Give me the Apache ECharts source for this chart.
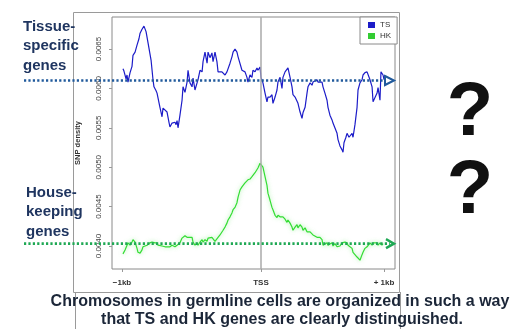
<!DOCTYPE html>
<html><head><meta charset="utf-8">
<script src="https://cdn.jsdelivr.net/npm/echarts@6/dist/echarts.min.js"></script>
<style>html,body{margin:0;padding:0;background:#fff}#c{width:527px;height:329px}</style>
</head><body><div id="c"></div>
<script>
// ---- data (bp relative to TSS, SNP density) ----
const tsX = [-993,-986,-971,-964,-957,-942,-928,-921,-906,-892,-878,-870,-856,-849,-842,-827,-813,-791,-777,-770,-755,-748,-727,-712,-705,-691,-676,-662,-655,-640,-633,-619,-611,-604,-597,-583,-568,-561,-547,-532,-525,-511,-496,-489,-475,-460,-453,-439,-424,-417,-403,-388,-381,-367,-353,-345,-331,-317,-309,-295,-281,-273,-259,-245,-237,-223,-209,-201,-187,-173,-165,-151,-137,-129,-115,-101,-94,-79,-65,-58,-43,-29,-22,-7,0,14,29,43,50,65,79,86,101,115,122,137,151,158,173,187,194,209,223,230,245,259,266,281,295,302,317,331,338,353,367,374,388,403,410,424,439,446,460,475,482,496,511,518,532,547,554,568,583,590,597,611,619,633,655,662,676,691,698,712,727,734,748,763,770,784,799,806,820,835,842,856,863,870,878,885];
const tsY = [0.00625,0.00622,0.00612,0.00617,0.00608,0.00620,0.00628,0.00642,0.00646,0.00655,0.00663,0.00670,0.00675,0.00677,0.00679,0.00672,0.00658,0.00636,0.00611,0.00602,0.00597,0.00594,0.00576,0.00564,0.00575,0.00576,0.00570,0.00557,0.00551,0.00556,0.00555,0.00557,0.00554,0.00559,0.00550,0.00566,0.00585,0.00602,0.00595,0.00608,0.00623,0.00607,0.00602,0.00613,0.00598,0.00607,0.00611,0.00623,0.00621,0.00634,0.00646,0.00632,0.00646,0.00639,0.00645,0.00634,0.00646,0.00634,0.00621,0.00623,0.00621,0.00623,0.00617,0.00621,0.00621,0.00632,0.00640,0.00646,0.00650,0.00646,0.00640,0.00640,0.00623,0.00621,0.00621,0.00614,0.00608,0.00617,0.00614,0.00623,0.00621,0.00626,0.00623,0.00627,0.00614,0.00607,0.00594,0.00583,0.00589,0.00589,0.00592,0.00581,0.00589,0.00598,0.00608,0.00614,0.00600,0.00614,0.00621,0.00623,0.00626,0.00614,0.00602,0.00592,0.00589,0.00588,0.00581,0.00570,0.00562,0.00569,0.00576,0.00594,0.00602,0.00607,0.00604,0.00608,0.00607,0.00611,0.00608,0.00607,0.00608,0.00602,0.00594,0.00585,0.00576,0.00566,0.00560,0.00556,0.00554,0.00543,0.00535,0.00527,0.00522,0.00519,0.00531,0.00538,0.00543,0.00538,0.00543,0.00538,0.00554,0.00576,0.00598,0.00607,0.00611,0.00617,0.00620,0.00621,0.00623,0.00611,0.00602,0.00583,0.00585,0.00594,0.00601,0.00585,0.00621,0.00621,0.00617,0.00611];
const hkX = [-993,-978,-964,-957,-942,-928,-921,-906,-892,-885,-870,-856,-849,-835,-820,-813,-799,-784,-777,-763,-748,-741,-727,-712,-705,-691,-676,-669,-655,-640,-633,-619,-604,-597,-583,-568,-561,-547,-532,-525,-511,-496,-489,-475,-460,-453,-439,-424,-417,-403,-388,-381,-367,-353,-345,-331,-317,-309,-295,-281,-273,-259,-245,-237,-223,-209,-201,-187,-173,-165,-151,-137,-129,-115,-101,-94,-79,-65,-58,-43,-29,-22,-7,7,14,29,43,50,65,79,86,101,115,122,137,151,158,173,187,194,209,223,230,245,259,266,281,295,302,317,331,338,353,367,374,388,403,410,424,439,446,460,475,482,496,511,518,532,547,554,568,583,590,604,619,626,640,655,662,676,691,698,712,727,734,748,763,770,784,799,806,820,835,842,856,870,878];
const hkY = [0.00390,0.00395,0.00401,0.00404,0.00401,0.00405,0.00408,0.00405,0.00397,0.00392,0.00391,0.00395,0.00399,0.00399,0.00401,0.00399,0.00404,0.00405,0.00405,0.00404,0.00404,0.00401,0.00403,0.00400,0.00401,0.00399,0.00399,0.00400,0.00399,0.00401,0.00399,0.00399,0.00401,0.00400,0.00404,0.00410,0.00411,0.00413,0.00411,0.00413,0.00411,0.00411,0.00405,0.00401,0.00404,0.00401,0.00405,0.00408,0.00405,0.00408,0.00406,0.00410,0.00410,0.00411,0.00410,0.00406,0.00408,0.00411,0.00414,0.00416,0.00420,0.00424,0.00429,0.00433,0.00437,0.00442,0.00446,0.00449,0.00455,0.00462,0.00471,0.00475,0.00477,0.00480,0.00481,0.00484,0.00485,0.00488,0.00490,0.00493,0.00493,0.00499,0.00505,0.00507,0.00500,0.00488,0.00477,0.00467,0.00458,0.00449,0.00446,0.00439,0.00436,0.00439,0.00437,0.00436,0.00437,0.00434,0.00430,0.00433,0.00429,0.00424,0.00420,0.00424,0.00427,0.00423,0.00427,0.00424,0.00420,0.00423,0.00418,0.00420,0.00418,0.00416,0.00414,0.00413,0.00411,0.00410,0.00411,0.00408,0.00401,0.00401,0.00404,0.00401,0.00399,0.00404,0.00400,0.00403,0.00399,0.00401,0.00400,0.00404,0.00404,0.00405,0.00404,0.00401,0.00401,0.00397,0.00392,0.00391,0.00386,0.00385,0.00382,0.00389,0.00392,0.00397,0.00399,0.00401,0.00404,0.00401,0.00404,0.00405,0.00404,0.00401,0.00404,0.00401,0.00403];
const seriesNames = ['TS', 'HK'];
const xTickValues = [-1000, 0, 885];
const xTickLabels = ['\u22121kb', 'TSS', '+ 1kb'];
const yTickValues = [0.0040, 0.0045, 0.0050, 0.0055, 0.0060, 0.0065];
const tsLevel = 0.0061;
const hkLevel = 0.00403;

const chart = echarts.init(document.getElementById('c'), null, {renderer: 'canvas'});
const navy = '#1f3560';
const option = {
  animation: false,
  backgroundColor: '#fff',
  grid: {left: 112, top: 17, width: 283, height: 252, show: true, borderColor: '#8a8a8a', borderWidth: 1, containLabel: false},
  legend: {
    data: seriesNames, orient: 'vertical', left: 360, top: 17,
    itemWidth: 7, itemHeight: 6, itemGap: 3, icon: 'rect',
    padding: [4, 6, 4, 8], borderColor: '#8a8a8a', borderWidth: 1, backgroundColor: '#fff',
    textStyle: {fontSize: 8, color: '#333', fontFamily: 'Liberation Sans'}
  },
  xAxis: {
    type: 'value', min: -1072, max: 964,
    splitLine: {show: false}, axisLine: {show: false, onZero: false},
    axisTick: {show: true, customValues: xTickValues, length: 3, lineStyle: {color: '#999'}},
    axisLabel: {customValues: xTickValues, margin: 10, fontSize: 8, fontWeight: 'bold', color: '#333', fontFamily: 'Liberation Sans',
      formatter: v => xTickLabels[xTickValues.indexOf(v)] || ''}
  },
  yAxis: {
    type: 'value', min: 0.003708, max: 0.006906,
    splitLine: {show: false}, axisLine: {show: false, onZero: false},
    axisTick: {show: true, customValues: yTickValues, length: 3, lineStyle: {color: '#999'}},
    axisLabel: {customValues: yTickValues, rotate: 90, margin: 9, fontSize: 8, color: '#444', fontFamily: 'Liberation Sans',
      formatter: v => v.toFixed(4)},
    name: 'SNP density', nameLocation: 'middle', nameGap: 30, nameRotate: 90,
    nameTextStyle: {fontSize: 7.5, fontWeight: 'bold', color: '#333', fontFamily: 'Liberation Sans'}
  },
  series: [
    {name: 'TS', type: 'line', showSymbol: false, symbol: 'none', color: '#1c1cc8',
      lineStyle: {width: 1.2, color: '#1c1cc8'},
      data: tsX.map((x, i) => [x, tsY[i]]),
      markLine: {silent: true, symbol: 'none', label: {show: false}, lineStyle: {color: '#aaa', type: 'solid', width: 1.5},
        data: [{xAxis: 0}]}
    },
    {name: 'HK', type: 'line', showSymbol: false, symbol: 'none', color: '#33cc33',
      lineStyle: {width: 1.2, color: '#33dd33', shadowColor: 'rgba(110,230,110,0.7)', shadowBlur: 4},
      data: hkX.map((x, i) => [x, hkY[i]])
    }
  ]
};
chart.setOption(option);

const yTs = chart.convertToPixel({yAxisIndex: 0}, tsLevel);
const yHk = chart.convertToPixel({yAxisIndex: 0}, hkLevel);
const leftFont = 'bold 15px "Liberation Sans", Arial, sans-serif';
const bottomFont = 'bold 16px "Liberation Sans", Arial, sans-serif';
const qFont = 'bold 76px "Liberation Sans", Arial, sans-serif';
chart.setOption({graphic: [
  {type: 'rect', shape: {x: 73.5, y: 12.5, width: 326, height: 280}, style: {fill: 'none', stroke: '#9a9a9a', lineWidth: 1}, z: 0, silent: true},
  {type: 'line', shape: {x1: 75.5, y1: 292, x2: 75.5, y2: 329}, style: {stroke: '#9a9a9a', lineWidth: 1}},
  {type: 'line', shape: {x1: 400.5, y1: 292, x2: 400.5, y2: 329}, style: {stroke: '#9a9a9a', lineWidth: 1}},
  {type: 'line', z: 50, shape: {x1: 24, y1: yTs, x2: 386, y2: yTs}, style: {stroke: '#215a9c', lineWidth: 2.6, lineDash: [2.2, 2.2]}},
  {type: 'polygon', z: 51, shape: {points: [[385, yTs - 4.5], [394, yTs], [385, yTs + 4.5]]}, style: {fill: '#fff', stroke: '#215a9c', lineWidth: 2}},
  {type: 'line', z: 50, shape: {x1: 24, y1: yHk, x2: 390, y2: yHk}, style: {stroke: '#1fa854', lineWidth: 2.6, lineDash: [2.2, 2.2]}},
  {type: 'polyline', z: 51, shape: {points: [[386, yHk - 4.5], [394, yHk], [386, yHk + 4.5]]}, style: {fill: 'none', stroke: '#1fa854', lineWidth: 2.4}},
  {type: 'text', left: 23, top: 17, style: {text: 'Tissue-\nspecific\ngenes', font: leftFont, fill: navy, lineHeight: 19.5}},
  {type: 'text', left: 26, top: 183, style: {text: 'House-\nkeeping\ngenes', font: leftFont, fill: navy, lineHeight: 19.5}},
  {type: 'text', x: 470, y: 114, style: {text: '?', font: qFont, fill: '#111', align: 'center', verticalAlign: 'middle'}},
  {type: 'text', x: 470, y: 192, style: {text: '?', font: qFont, fill: '#111', align: 'center', verticalAlign: 'middle'}},
  {type: 'text', x: 280, y: 302, style: {text: 'Chromosomes in germline cells are organized in such a way', font: bottomFont, fill: '#1b2638', align: 'center', verticalAlign: 'middle'}},
  {type: 'text', x: 282, y: 320, style: {text: 'that TS and HK genes are clearly distinguished.', font: bottomFont, fill: '#1b2638', align: 'center', verticalAlign: 'middle'}}
]});
</script></body></html>
